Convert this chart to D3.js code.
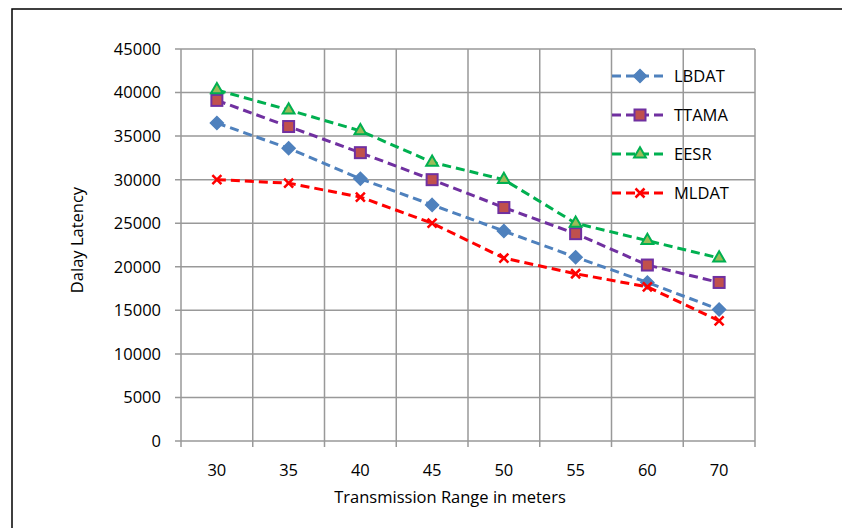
<!DOCTYPE html>
<html>
<head>
<meta charset="utf-8">
<script src="https://cdn.jsdelivr.net/npm/d3@7"></script>
<style>
  body { margin: 0; background: #fff; }
  text { font-family: "Open Sans", "Liberation Sans", sans-serif; fill: #000; }
</style>
</head>
<body>
<div id="chart"></div>
<script>
const ranges = ["30", "35", "40", "45", "50", "55", "60", "70"];
const lbdat = [36500, 33600, 30100, 27100, 24100, 21100, 18200, 15100];
const ttama = [39100, 36100, 33100, 30000, 26800, 23800, 20200, 18200];
const eesr = [40300, 38000, 35600, 32000, 30000, 25000, 23000, 21000];
const mldat = [30000, 29600, 28000, 25000, 21000, 19200, 17700, 13800];
const yTicks = [0, 5000, 10000, 15000, 20000, 25000, 30000, 35000, 40000, 45000];

const series = [
    {name: "LBDAT", values: lbdat, line: "#4f81bd", fill: "#4f81bd", stroke: "#4f81bd", marker: "diamond"},
    {name: "TTAMA", values: ttama, line: "#7030a0", fill: "#c0504d", stroke: "#7030a0", marker: "square"},
    {name: "EESR", values: eesr, line: "#00b050", fill: "#9bbb59", stroke: "#00b050", marker: "triangle"},
    {name: "MLDAT", values: mldat, line: "#ff0000", fill: "none", stroke: "#ff0000", marker: "cross"}
];

const W = 842, H = 528;
const margin = {top: 49, right: 87, bottom: 87, left: 181};
const width = W - margin.left - margin.right,
    height = H - margin.top - margin.bottom;

const root = d3.select("#chart").append("svg")
    .attr("width", W)
    .attr("height", H);

// outer frame (runs off the right and bottom edges)
root.append("rect")
    .attr("x", 12).attr("y", 9)
    .attr("width", W + 20).attr("height", H + 20)
    .attr("fill", "none")
    .attr("stroke", "#000")
    .attr("stroke-width", 1.5);

const svg = root.append("g")
    .attr("transform", "translate(" + margin.left + "," + margin.top + ")");

const x = d3.scaleBand().domain(ranges).range([0, width]).padding(0);
const y = d3.scaleLinear().domain([0, 45000]).range([height, 0]);

const gridColor = "#999";

// horizontal gridlines
svg.append("g")
    .selectAll("line")
    .data(yTicks)
    .join("line")
    .attr("x1", -6).attr("x2", width)
    .attr("y1", d => y(d)).attr("y2", d => y(d))
    .attr("stroke", gridColor).attr("stroke-width", 1.5);

// vertical gridlines at band edges
const edges = ranges.map(d => x(d)).concat([width]);
svg.append("g")
    .selectAll("line")
    .data(edges)
    .join("line")
    .attr("x1", d => d).attr("x2", d => d)
    .attr("y1", 0).attr("y2", height + 6)
    .attr("stroke", gridColor).attr("stroke-width", 1.5);

// y tick labels
svg.append("g")
    .selectAll("text")
    .data(yTicks)
    .join("text")
    .attr("x", -20)
    .attr("y", d => y(d))
    .attr("dy", "0.36em")
    .attr("text-anchor", "end")
    .attr("font-size", 16.5)
    .text(d => d);

// x tick labels
svg.append("g")
    .selectAll("text")
    .data(ranges)
    .join("text")
    .attr("x", d => x(d) + x.bandwidth() / 2)
    .attr("y", height + 35)
    .attr("text-anchor", "middle")
    .attr("font-size", 16.5)
    .text(d => d);

// axis titles
svg.append("text")
    .attr("x", width / 2 - 18)
    .attr("y", height + 62)
    .attr("text-anchor", "middle")
    .attr("font-size", 16.5)
    .text("Transmission Range in meters");

svg.append("text")
    .attr("transform", "rotate(-90)")
    .attr("x", -height / 2 + 5)
    .attr("y", -98)
    .attr("text-anchor", "middle")
    .attr("font-size", 16.5)
    .text("Dalay Latency");

function drawMarker(g, s, size) {
    if (s.marker === "diamond") {
        const h = size / 2 + 1;
        g.append("path")
            .attr("d", `M0,${-h}L${h},0L0,${h}L${-h},0Z`)
            .attr("fill", s.fill).attr("stroke", s.stroke).attr("stroke-width", 1.5);
    } else if (s.marker === "square") {
        g.append("rect")
            .attr("x", -size / 2).attr("y", -size / 2)
            .attr("width", size).attr("height", size)
            .attr("fill", s.fill).attr("stroke", s.stroke).attr("stroke-width", 2);
    } else if (s.marker === "triangle") {
        g.append("path")
            .attr("d", d3.symbol(d3.symbolTriangle, size * size * 0.5)())
            .attr("fill", s.fill).attr("stroke", s.stroke).attr("stroke-width", 2);
    } else {
        const h = size / 2 - 1;
        g.append("path")
            .attr("d", `M${-h},${-h}L${h},${h}M${-h},${h}L${h},${-h}`)
            .attr("stroke", s.stroke).attr("stroke-width", 2.5);
    }
}

const line = d3.line()
    .x((d, i) => x(ranges[i]) + x.bandwidth() / 2)
    .y(d => y(d));

series.forEach(s => {
    svg.append("path")
        .datum(s.values)
        .attr("d", line)
        .attr("fill", "none")
        .attr("stroke", s.line)
        .attr("stroke-width", 3)
        .attr("stroke-dasharray", "9 5");

    svg.append("g")
        .selectAll("g")
        .data(s.values)
        .join("g")
        .attr("transform", (d, i) => "translate(" + (x(ranges[i]) + x.bandwidth() / 2) + "," + y(d) + ")")
        .each(function () { drawMarker(d3.select(this), s, 11); });
});

// legend
const legend = svg.append("g")
    .attr("transform", "translate(431, 27)");

series.forEach((s, i) => {
    const row = legend.append("g").attr("transform", "translate(0," + (i * 39) + ")");
    row.append("line")
        .attr("x1", 0).attr("x2", 56)
        .attr("stroke", s.line).attr("stroke-width", 3)
        .attr("stroke-dasharray", "9 5");
    const m = row.append("g").attr("transform", "translate(28,0)");
    drawMarker(m, s, 11);
    row.append("text")
        .attr("x", 62)
        .attr("dy", "0.36em")
        .attr("font-size", 16.5)
        .text(s.name);
});
</script>
</body>
</html>
